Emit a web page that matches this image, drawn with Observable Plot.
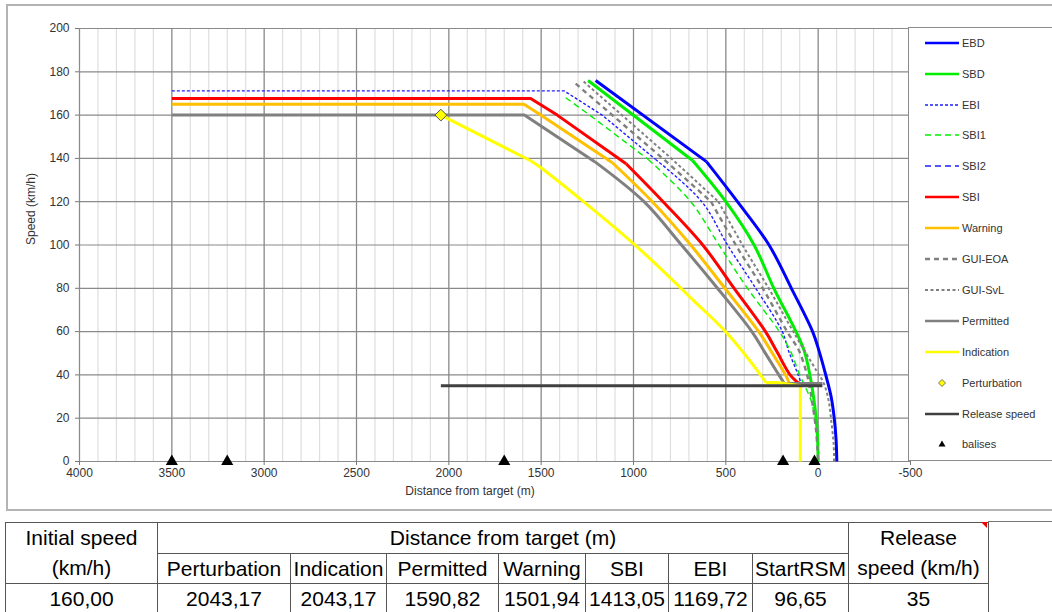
<!DOCTYPE html>
<html>
<head>
<meta charset="utf-8">
<script src="https://cdn.jsdelivr.net/npm/d3@7"></script>
<script src="https://cdn.jsdelivr.net/npm/@observablehq/plot@0.6"></script>
<style>
html,body{margin:0;padding:0;background:#fff;overflow:hidden;}
#wrap{position:relative;width:1052px;height:612px;font-family:"Liberation Sans",Arial,sans-serif;}
#frame{position:absolute;left:6px;top:4px;width:1060px;height:507px;border:2px solid #b4b4b4;box-sizing:border-box;}
#chart{position:absolute;left:0;top:0;}
#legend{position:absolute;left:908px;top:27px;width:170px;height:434px;border:1px solid #8c8c8c;box-sizing:border-box;background:#fff;}
.item{position:absolute;left:16px;height:16px;display:flex;align-items:center;font-size:11px;color:#333;white-space:nowrap;}
.item svg{display:block;margin-right:3px;}
#tbl{position:absolute;left:5px;top:522px;border-collapse:collapse;font-family:"Liberation Sans",Arial,sans-serif;font-size:21px;color:#000;table-layout:fixed;}
#tbl td{border:1px solid #555;padding:0;text-align:center;line-height:29px;overflow:hidden;white-space:nowrap;}
#tbl tr{height:30px;}
#topline{position:absolute;left:988px;top:521px;width:64px;height:0;border-top:1px solid #777;}
#comment{position:absolute;left:981px;top:522px;width:0;height:0;border-top:6px solid #e00;border-left:6px solid transparent;}
</style>
</head>
<body>
<div id="wrap">
  <div id="frame"></div>
  <div id="chart"></div>
  <div id="legend"></div>
  <div id="topline"></div>
  <table id="tbl"></table>
  <div id="comment"></div>
</div>
<script>
// ---------- data (distance from target in m, speed in km/h) ----------
const X_TICKS = [4000, 3500, 3000, 2500, 2000, 1500, 1000, 500, 0, -500];
const Y_TICKS = [0, 20, 40, 60, 80, 100, 120, 140, 160, 180, 200];

const EBD = [[1205,176],[605,138.5],[437,120],[266,100],[145,80],[30,60],[-5,51],[-41,40],[-70,30],[-87,20],[-97,10],[-101,0]];
const SBD = [[1246,176],[680,139],[500,120],[347,100],[240,80],[120,60],[75,51],[45,40],[22,28],[11,20],[3,10],[0,0]];
const EBI = [[3500,171.2],[1376,171.2],[1169.72,160],[880,139.5],[630,120],[491,100],[338,80],[194,60],[160,51],[108,40],[94,36.5]];
const SBI1 = [[1367,168],[1237,160],[920,139.5],[690,120],[537,100],[383,80],[210,60],[150,51],[100,40],[70,34.5],[38,28],[12,18]];
const SBI = [[3500,167.7],[1557,167.7],[1413.05,160],[1040,137.5],[840,120],[625,100],[455,80],[285,60],[225,51],[152,40],[112,36.5],[98,36]];
const WARNING = [[3500,165],[1593,165],[1501.94,160],[1114,138],[898,120],[690,100],[505,80],[322,60],[255,51],[177,40],[158,36.5]];
const GUI_EOA = [[1313,174.5],[835,139.5],[580,120],[446,100],[300,80],[168,60],[103,51],[60,40],[49,35.7],[13,15.7],[0,0]];
const GUI_SVL = [[1270,175.5],[789,139.5],[540,120],[410,100],[268,80],[135,60],[10,42],[-31,36],[-57,28],[-72,18],[-84,8],[-86,0]];
const PERMITTED = [[3500,160],[1590.82,160],[1210,138.5],[943,120],[740,100],[545,80],[359,60],[293,51],[213,40],[190,37],[185,36],[-23,36]];
const INDICATION = [[2043.17,160],[1557,138.9],[1503,135.8],[997,100.4],[673,74.2],[502,60],[312,40],[284,36.5],[220,36.5],[96.65,35],[96.65,0]];
const PERTURBATION = [[2043.17,160]];
const RELEASE = [[2043.17,35],[-23,35]];
const BALISES = [3500, 3200, 1700, 190, 20];

// table values
const TABLE_COLS = ["Perturbation","Indication","Permitted","Warning","SBI","EBI","StartRSM"];
const TABLE_VALUES = ["2043,17","2043,17","1590,82","1501,94","1413,05","1169,72","96,65"];
const INITIAL_SPEED = "160,00";
const RELEASE_SPEED = "35";

// ---------- styles (bend = index range drawn as a smooth curve) ----------
const STYLE = {
  "EBD":        {data:EBD,        stroke:"#0000ff", w:3,   bend:[1, 11]},
  "SBD":        {data:SBD,        stroke:"#00ee00", w:3,   bend:[1, 11]},
  "EBI":        {data:EBI,        stroke:"#1f1fff", w:1.4, dash:"3,2", bend:[3, 10]},
  "SBI1":       {data:SBI1,       stroke:"#00ee00", w:1.4, dash:"6,4", bend:[2, 11]},
  "SBI2":       {data:null,       stroke:"#1f1fff", w:1.4, dash:"6,4"},
  "SBI":        {data:SBI,        stroke:"#ff0000", w:3,   bend:[3, 10]},
  "Warning":    {data:WARNING,    stroke:"#ffc000", w:3,   bend:[3, 10]},
  "GUI-EOA":    {data:GUI_EOA,    stroke:"#808080", w:2.4, dash:"5,4", bend:[2, 10]},
  "GUI-SvL":    {data:GUI_SVL,    stroke:"#808080", w:2,   dash:"3,2.5", bend:[2, 11]},
  "Permitted":  {data:PERMITTED,  stroke:"#808080", w:3,   bend:[2, 9]},
  "Indication": {data:INDICATION, stroke:"#ffff00", w:3,   bend:[1, 7]},
  "Perturbation": {marker:"diamond"},
  "Release speed": {data:RELEASE, stroke:"#404040", w:3},
  "balises": {marker:"triangle"}
};
const ORDER = Object.keys(STYLE);

function lineMark(pts, s, curve) {
  return Plot.line(pts, {x: d => d[0], y: d => d[1], stroke: s.stroke, strokeWidth: s.w,
    strokeDasharray: s.dash, strokeLinejoin: "round", strokeLinecap: "butt", curve});
}

const lineMarks = [];
for (const name of ORDER) {
  const s = STYLE[name];
  if (name === "Perturbation") {
    lineMarks.push(Plot.dot(PERTURBATION, {x: d => d[0], y: d => d[1], symbol: "diamond2", r: 5.3, fill: "#ffff00", stroke: "#555", strokeWidth: 1}));
  } else if (name === "balises") {
    lineMarks.push(Plot.dot(BALISES, {x: d => d, y: () => 0, symbol: "triangle", r: 4.5, fill: "#000", stroke: "none"}));
  } else if (s.data) {
    const pts = s.data;
    if (s.bend) {
      const [i, j] = s.bend;
      if (i > 0) lineMarks.push(lineMark(pts.slice(0, i + 1), s, "linear"));
      lineMarks.push(lineMark(pts.slice(i, j + 1), s, "catmull-rom"));
      if (j < pts.length - 1) lineMarks.push(lineMark(pts.slice(j), s, "linear"));
    } else {
      lineMarks.push(lineMark(pts, s, "linear"));
    }
  }
}

const chart = Plot.plot({
  width: 1052, height: 512,
  marginLeft: 79, marginRight: 142, marginTop: 28, marginBottom: 51,
  style: {background: "transparent", fontFamily: "Liberation Sans, Arial, sans-serif", fontSize: "12px", color: "#333"},
  x: {domain: [4000, -500]},
  y: {domain: [0, 200]},
  marks: [
    Plot.ruleX(d3.range(4000, -501, -100), {stroke: "#dedede", strokeWidth: 1.2}),
    Plot.ruleX(X_TICKS, {stroke: "#8a8a8a", strokeWidth: 1.2}),
    Plot.ruleY(Y_TICKS, {stroke: "#8a8a8a", strokeWidth: 1.2}),
    Plot.axisX(X_TICKS, {tickSize: 4, tickPadding: 3, tickFormat: d => String(d), label: null, stroke: "#777", fill: "#333", fontSize: 12}),
    Plot.axisY(Y_TICKS, {tickSize: 4, tickPadding: 6, tickFormat: d => String(d), label: null, stroke: "#777", fill: "#333", fontSize: 12}),
    Plot.text(["Distance from target (m)"], {text: d => d, frameAnchor: "bottom", dy: 33, dx: -25, fill: "#333", fontSize: 12}),
    Plot.text(["Speed (km/h)"], {text: d => d, frameAnchor: "left", dx: -48, rotate: -90, fill: "#333", fontSize: 12}),
    ...lineMarks
  ]
});
document.getElementById("chart").appendChild(chart);

// ---------- legend ----------
const legend = document.getElementById("legend");
ORDER.forEach((name, i) => {
  const s = STYLE[name];
  const cy = 42.7 + i * 30.9 - 27 - 1;
  const div = document.createElement("div");
  div.className = "item";
  div.style.top = (cy - 8) + "px";
  let svg;
  if (s.marker === "diamond") {
    svg = `<svg width="34" height="16"><path d="M17,4.5 L20.5,8 L17,11.5 L13.5,8 Z" fill="#ffff00" stroke="#555" stroke-width="0.8"/></svg>`;
  } else if (s.marker === "triangle") {
    svg = `<svg width="34" height="16"><path d="M17,4.5 L20.5,10.5 L13.5,10.5 Z" fill="#000"/></svg>`;
  } else {
    svg = `<svg width="34" height="16"><line x1="0" y1="8" x2="34" y2="8" stroke="${s.stroke}" stroke-width="${Math.min(s.w, 2.6)}" ${s.dash ? `stroke-dasharray="${s.dash}"` : ""}/></svg>`;
  }
  div.innerHTML = svg + `<span>${name}</span>`;
  legend.appendChild(div);
});

// ---------- table ----------
const widths = [152, 133, 96, 112, 87, 83, 84, 96, 140];
const tbl = document.getElementById("tbl");
let html = "<colgroup>" + widths.map(w => `<col style="width:${w}px">`).join("") + "</colgroup>";
html += `<tr><td rowspan="2" style="line-height:30px">Initial speed<br>(km/h)</td><td colspan="7">Distance from target (m)</td><td rowspan="2" style="line-height:30px">Release<br>speed (km/h)</td></tr>`;
html += "<tr>" + TABLE_COLS.map(c => `<td>${c}</td>`).join("") + "</tr>";
html += `<tr><td>${INITIAL_SPEED}</td>` + TABLE_VALUES.map(v => `<td>${v}</td>`).join("") + `<td>${RELEASE_SPEED}</td></tr>`;
tbl.innerHTML = html;
</script>
</body>
</html>
